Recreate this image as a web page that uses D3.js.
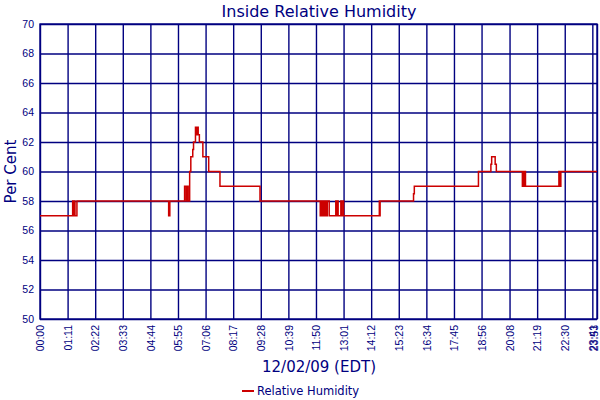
<!DOCTYPE html>
<html>
<head>
<meta charset="utf-8">
<script src="https://cdn.jsdelivr.net/npm/d3@7"></script>
<style>
  body { margin: 0; background: #fff; }
  svg { display: block; font-family: "DejaVu Sans", Verdana, sans-serif; }
  .grid line { stroke: #000080; stroke-width: 1.4; }
  .tick text { fill: #000080; }
</style>
</head>
<body>
<svg id="chart" width="600" height="400"></svg>
<script>
// readings (minutes after midnight) where the humidity value changes
var stepMinutes = [
    0, 84, 86, 88, 90, 95,
    331, 334,
    372, 376, 379, 381, 385, 388, 393, 395, 400, 403, 404, 407, 410, 419, 426, 434, 463, 566,
    721, 723, 725, 727, 729, 731, 733, 735, 737, 739, 743, 744,
    761, 763, 766, 767, 774, 775, 779, 781,
    873, 874, 875,
    961, 963,
    1128, 1160, 1162, 1171, 1174,
    1241, 1243, 1245, 1247, 1249,
    1335, 1337, 1340, 1342,
    1433
];
var stepValues = [
    57, 58, 57, 58, 57, 58,
    57, 58,
    59, 58, 59, 58, 60, 61, 61.5, 62, 63, 62.5, 63, 62.5, 62, 61, 61, 60, 59, 58,
    57, 58, 57, 58, 57, 58, 57, 58, 57, 58, 58, 57,
    58, 57, 58, 57, 58, 57, 58, 57,
    58, 57, 58,
    58.5, 59,
    60, 60.5, 61, 60.5, 60,
    59, 60, 59, 60, 59,
    60, 59, 60, 60,
    60
];
var xTickLabels = ["00:00", "01:11", "02:22", "03:33", "04:44", "05:55", "07:06", "08:17",
    "09:28", "10:39", "11:50", "13:01", "14:12", "15:23", "16:34", "17:45", "18:56",
    "20:08", "21:19", "22:30", "23:41", "23:53"];
var yTicks = [50, 52, 54, 56, 58, 60, 62, 64, 66, 68, 70];

(function() {
    var navy = "#000080", red = "#cc0000";
    var mLeft = 40, mRight = 597, mTop = 24, mBottom = 319;

    function toMinutes(s) {
        var p = s.split(":");
        return (+p[0]) * 60 + (+p[1]);
    }

    var svg = d3.select("#chart");

    var x = d3.scaleLinear().domain([0, 1433]).range([mLeft, mRight]);
    var y = d3.scaleLinear().domain([50, 70]).range([mBottom, mTop]);

    var xTicks = xTickLabels.map(toMinutes);

    // horizontal grid + y labels
    var yAxis = d3.axisLeft(y).tickValues(yTicks).tickSize(-(mRight - mLeft)).tickPadding(6).tickFormat(d3.format("d"));
    var gy = svg.append("g").attr("class", "grid").attr("transform", "translate(" + mLeft + ",0)").call(yAxis);
    gy.select(".domain").remove();
    gy.selectAll(".tick text").attr("font-size", 10.5);

    // vertical grid + rotated time labels
    var xAxis = d3.axisBottom(x).tickValues(xTicks).tickSize(-(mBottom - mTop)).tickFormat(function(d, i) { return xTickLabels[i]; });
    var gx = svg.append("g").attr("class", "grid").attr("transform", "translate(0," + mBottom + ")").call(xAxis);
    gx.select(".domain").remove();
    var last = xTickLabels.length - 1;
    gx.selectAll(".tick text")
        .attr("font-size", 10.5)
        .attr("transform", "rotate(-90)")
        .attr("text-anchor", "end")
        .attr("dy", "0.35em")
        .attr("x", -6)
        // end label would spill past the svg edge, nudge it in a bit
        .attr("y", function(d, i) { return i === last ? -3 : 0; });

    // plot frame
    svg.append("rect")
        .attr("x", mLeft).attr("y", mTop)
        .attr("width", mRight - mLeft).attr("height", mBottom - mTop)
        .attr("fill", "none").attr("stroke", navy).attr("stroke-width", 1.4);

    // humidity line
    var pts = stepMinutes.map(function(t, i) { return [t, stepValues[i]]; });
    var line = d3.line()
        .x(function(d) { return x(d[0]); })
        .y(function(d) { return y(d[1]); })
        .curve(d3.curveStepAfter);

    svg.append("path")
        .datum(pts)
        .attr("d", line)
        .attr("fill", "none")
        .attr("stroke", red)
        .attr("stroke-width", 1.5);

    // titles
    svg.append("text")
        .attr("x", 319).attr("y", 17)
        .attr("text-anchor", "middle")
        .attr("font-size", 16).attr("fill", navy)
        .text("Inside Relative Humidity");

    svg.append("text")
        .attr("transform", "translate(16," + ((mTop + mBottom) / 2) + ") rotate(-90)")
        .attr("text-anchor", "middle")
        .attr("font-size", 15).attr("fill", navy)
        .text("Per Cent");

    svg.append("text")
        .attr("x", 319).attr("y", 372)
        .attr("text-anchor", "middle")
        .attr("font-size", 15).attr("fill", navy)
        .text("12/02/09 (EDT)");

    // legend
    svg.append("line")
        .attr("x1", 242).attr("x2", 254).attr("y1", 391).attr("y2", 391)
        .attr("stroke", red).attr("stroke-width", 2);
    svg.append("text")
        .attr("x", 257).attr("y", 395)
        .attr("font-size", 11.5).attr("fill", navy)
        .text("Relative Humidity");
})();
</script>
</body>
</html>
